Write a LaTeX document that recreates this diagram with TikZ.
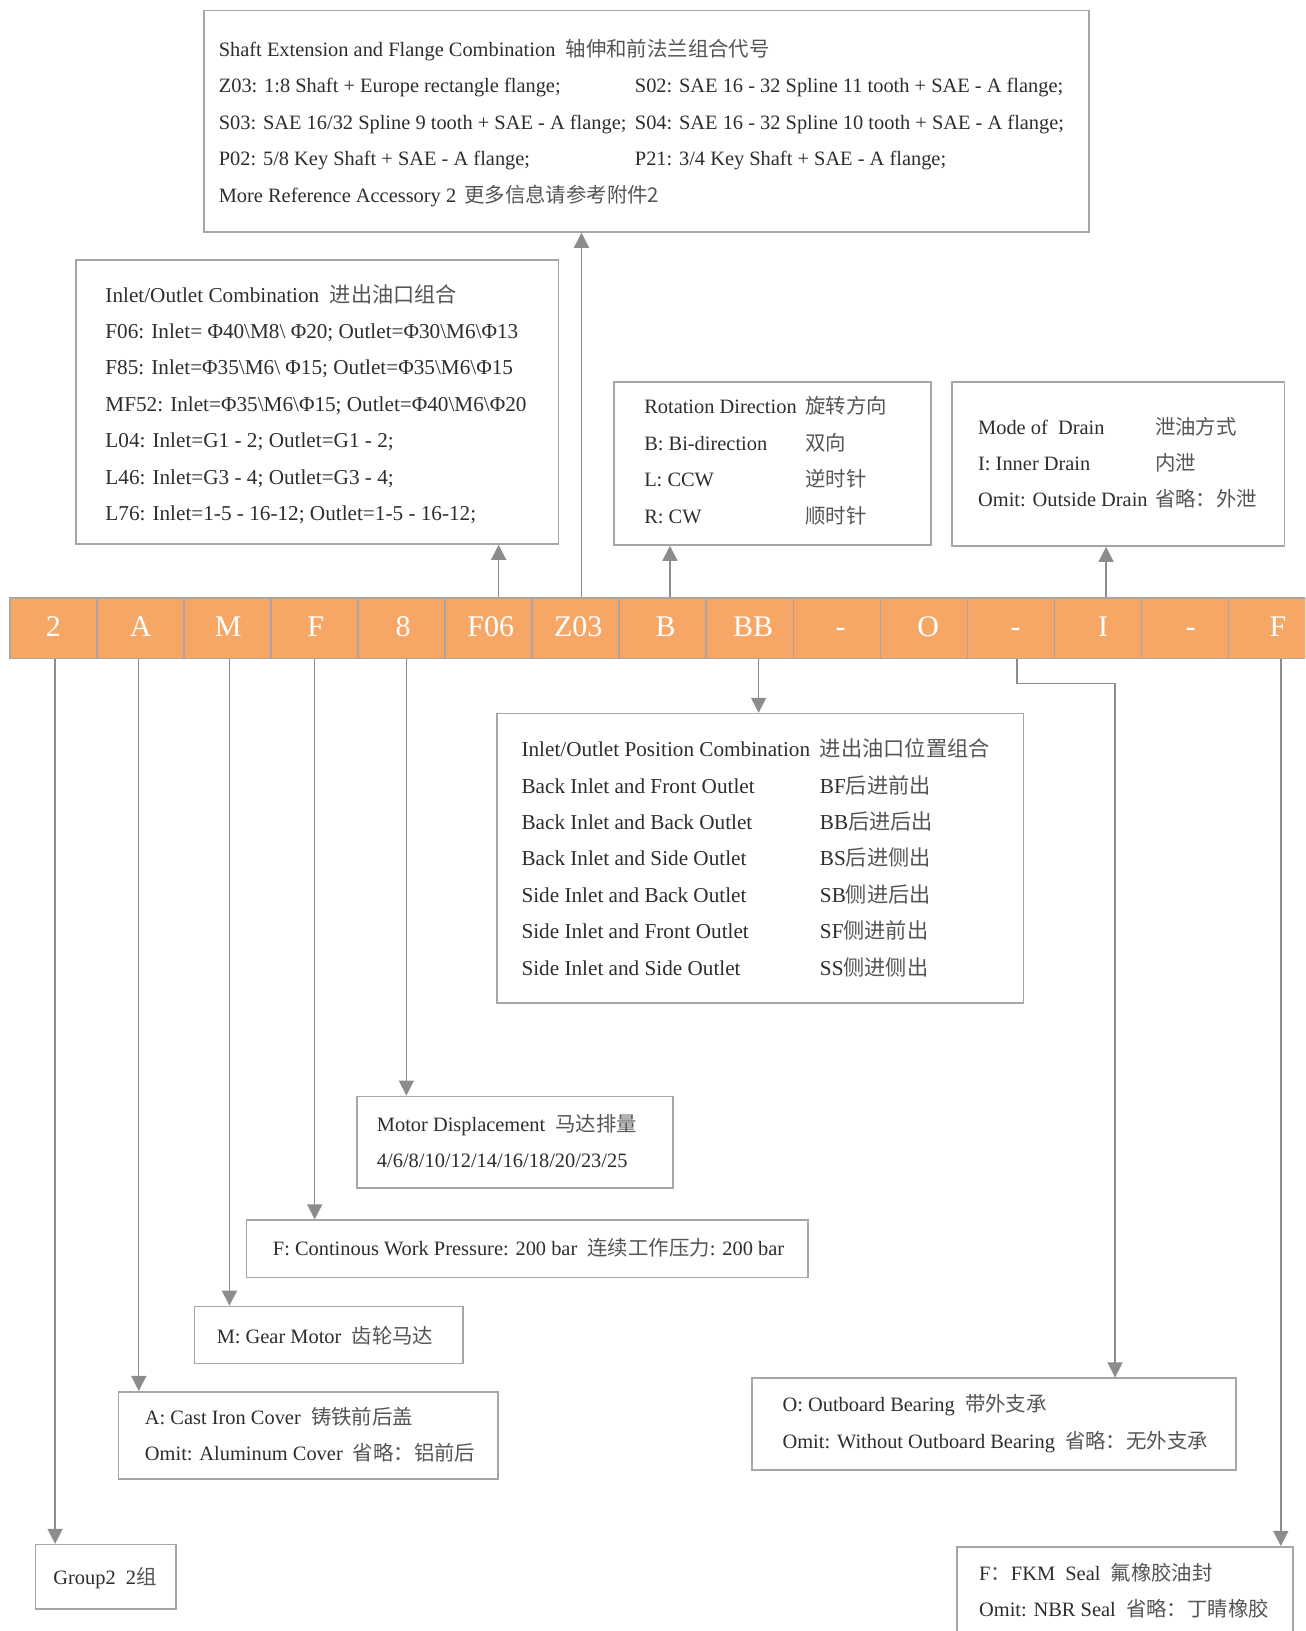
\documentclass[tikz,border=0pt]{standalone}
\usepackage{fontspec}
\usepackage{xcolor}
\usepackage{tikz}
\usetikzlibrary{arrows.meta, positioning, fit, calc}
\setmainfont{Liberation Serif}
\newfontfamily\cjk{Noto Sans CJK SC}
\definecolor{barorange}{RGB}{247,167,101}
\definecolor{framegray}{RGB}{166,166,166}
\definecolor{linkgray}{RGB}{140,140,140}
\definecolor{txtgray}{RGB}{45,45,45}
\definecolor{zhgray}{RGB}{85,85,85}
\newcommand{\zh}[1]{{\cjk\color{zhgray}#1}}
\newcommand{\bs}{\textbackslash}

\begin{document}
\begin{tikzpicture}[
  x=0.52pt, y=-0.52pt,
  every node/.style={text=txtgray},
  cell/.style={draw=framegray, line width=0.8pt, fill=barorange, minimum width=43.5pt, minimum height=30.2pt, inner sep=0pt, text height=7.8pt, text depth=0pt, text=white, font=\fontsize{15}{18}\selectfont},
  box/.style={draw=framegray, line width=0.8pt, inner sep=0pt},
  info/.style={anchor=north west, align=left, inner sep=0pt, font=\fontsize{10.2}{18.2}\selectfont},
  conn/.style={-{Triangle[length=7.5pt, width=7.5pt]}, draw=linkgray, line width=0.7pt}
]
\useasboundingbox (0,0) rectangle (1255,1568);
\clip (0,0) rectangle (1255,1568);

% Code bar
\foreach \lbl [count=\i, evaluate=\i as \sh using 0.416*(\i-1)] in {2,A,M,F,8,F06,Z03,B,BB,-,O,-,I,-,F}
  \node[cell] (c\i) at ({9.4+83.7*(\i-0.5)},604) {\hspace{\sh pt}\lbl};

% Boxes above the bar
\node[box, fit={(196,10) (1047,223)}] (shaft) {};
\node[info] (shaftTxt) at (210,29.5) {\strut Shaft Extension and Flange Combination\hspace{0.5em}\zh{轴伸和前法兰组合代号}\\
\makebox[208pt][l]{Z03: 1:8 Shaft + Europe rectangle flange;}S02: SAE 16 - 32 Spline 11 tooth + SAE - A flange;\\
\makebox[208pt][l]{S03: SAE 16/32 Spline 9 tooth + SAE - A flange;}S04: SAE 16 - 32 Spline 10 tooth + SAE - A flange;\\
\makebox[208pt][l]{P02: 5/8 Key Shaft + SAE - A flange;}P21: 3/4 Key Shaft + SAE - A flange;\\
More Reference Accessory 2\hspace{0.4em}\zh{更多信息请参考附件2}};

\node[box, fit={(73,250) (537,523)}] (ioc) {};
\node[info, font=\fontsize{10.6}{18.2}\selectfont] (iocTxt) at (101,265.5) {\strut Inlet/Outlet Combination\hspace{0.5em}\zh{进出油口组合}\\
F06: Inlet= Φ40\bs M8\bs\ Φ20; Outlet=Φ30\bs M6\bs Φ13\\
F85: Inlet=Φ35\bs M6\bs\ Φ15; Outlet=Φ35\bs M6\bs Φ15\\
MF52: Inlet=Φ35\bs M6\bs Φ15; Outlet=Φ40\bs M6\bs Φ20\\
L04: Inlet=G1 - 2; Outlet=G1 - 2;\\
L46: Inlet=G3 - 4; Outlet=G3 - 4;\\
L76: Inlet=1-5 - 16-12; Outlet=1-5 - 16-12;};

\node[box, fit={(590,367) (895,524)}] (rot) {};
\node[info] (rotTxt) at (619,373) {\strut\makebox[80.6pt][l]{Rotation Direction}\zh{旋转方向}\\
\makebox[80.6pt][l]{B: Bi-direction}\zh{双向}\\
\makebox[80.6pt][l]{L: CCW}\zh{逆时针}\\
\makebox[80.6pt][l]{R: CW}\zh{顺时针}};

\node[box, fit={(915,367) (1235,525)}] (drain) {};
\node[info] (drainTxt) at (940,392.5) {\strut\makebox[88.4pt][l]{Mode of\ \ Drain}\zh{泄油方式}\\
\makebox[88.4pt][l]{I: Inner Drain}\zh{内泄}\\
\makebox[88.4pt][l]{Omit: Outside Drain}\zh{省略：外泄}};

% Boxes below the bar
\node[box, fit={(478,686) (984,964)}] (pos) {};
\node[info, font=\fontsize{10.6}{18.2}\selectfont] (posTxt) at (501,702.5) {\strut\makebox[149.2pt][l]{Inlet/Outlet Position Combination}\zh{进出油口位置组合}\\
\makebox[149.2pt][l]{Back Inlet and Front Outlet}BF\zh{后进前出}\\
\makebox[149.2pt][l]{Back Inlet and Back Outlet}BB\zh{后进后出}\\
\makebox[149.2pt][l]{Back Inlet and Side Outlet}BS\zh{后进侧出}\\
\makebox[149.2pt][l]{Side Inlet and Back Outlet}SB\zh{侧进后出}\\
\makebox[149.2pt][l]{Side Inlet and Front Outlet}SF\zh{侧进前出}\\
\makebox[149.2pt][l]{Side Inlet and Side Outlet}SS\zh{侧进侧出}};

\node[box, fit={(343,1054) (647,1142)}] (disp) {};
\node[info] (dispTxt) at (362,1062.5) {\strut Motor Displacement\hspace{0.5em}\zh{马达排量}\\
4/6/8/10/12/14/16/18/20/23/25};

\node[box, fit={(237,1173) (777,1228)}] (press) {};
\node[info] (pressTxt) at (262,1182.5) {\strut F: Continous Work Pressure: 200 bar\hspace{0.5em}\zh{连续工作压力}: 200 bar};

\node[box, fit={(187,1256) (445,1311)}] (gear) {};
\node[info] (gearTxt) at (208,1266.5) {\strut M: Gear Motor\hspace{0.5em}\zh{齿轮马达}};

\node[box, fit={(114,1338) (479,1422)}] (cover) {};
\node[info] (coverTxt) at (139,1344.5) {\strut A: Cast Iron Cover\hspace{0.5em}\zh{铸铁前后盖}\\
Omit: Aluminum Cover\hspace{0.5em}\zh{省略：铝前后}};

\node[box, fit={(723,1325) (1188,1413)}] (bear) {};
\node[info] (bearTxt) at (752,1332.5) {\strut O: Outboard Bearing\hspace{0.5em}\zh{带外支承}\\
Omit: Without Outboard Bearing\hspace{0.5em}\zh{省略：无外支承}};

\node[box, fit={(34,1485) (169,1547)}] (grp) {};
\node[info] (grpTxt) at (51,1498) {\strut Group2\hspace{0.5em}2\zh{组}};

\node[box, fit={(920,1487) (1243,1600)}] (seal) {};
\node[info] (sealTxt) at (941,1494.5) {\strut F\zh{：}FKM\ \ Seal\hspace{0.5em}\zh{氟橡胶油封}\\
Omit: NBR Seal\hspace{0.5em}\zh{省略：丁睛橡胶}};

% Connectors up
\foreach \i/\dx/\tgt in {6/5/ioc, 7/2.9/shaft, 8/3.6/rot, 13/4/drain} {
  \coordinate (u\i) at ([xshift=\dx pt]c\i.north);
  \draw[conn] (u\i) -- (u\i |- \tgt.south);
}

% Connectors down
\foreach \i/\dx/\tgt in {1/0.9/grp, 2/-0.8/cover, 3/1/gear, 4/0.1/press, 5/2.4/disp, 9/4.4/pos, 15/4.3/seal} {
  \coordinate (d\i) at ([xshift=\dx pt]c\i.south);
  \draw[conn] (d\i) -- (d\i |- \tgt.north);
}
\coordinate (d12) at ([xshift=2.9pt]c12.south);
\coordinate (bend) at (1072,657);
\draw[conn] (d12) |- (bend) -- (bend |- bear.north);

\end{tikzpicture}
\end{document}
